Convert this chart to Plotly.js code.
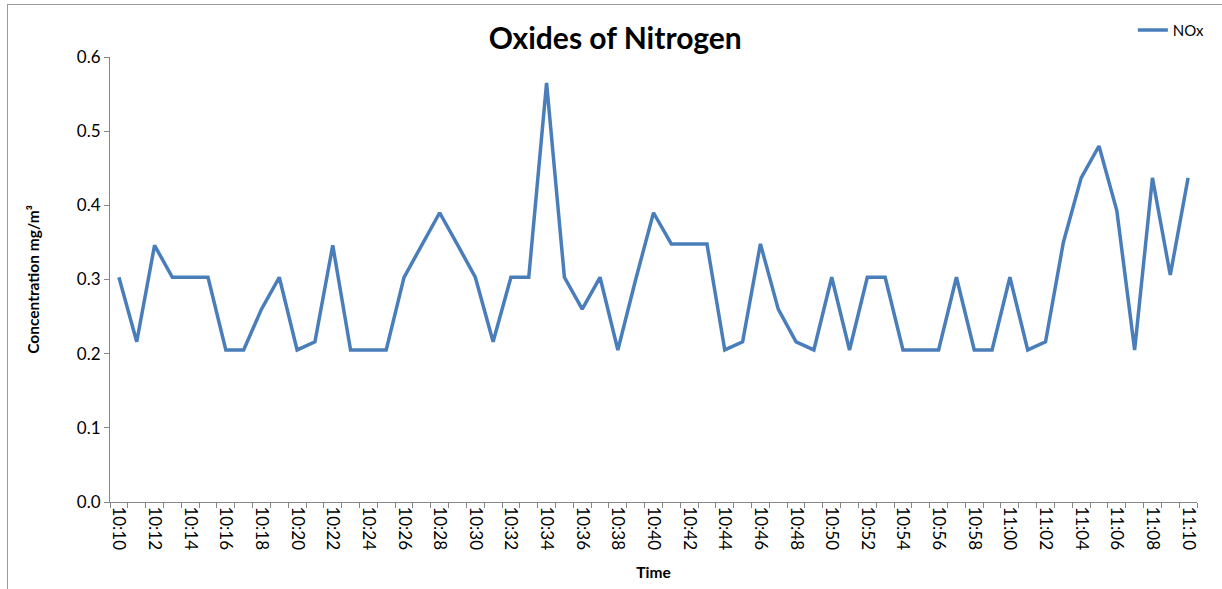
<!DOCTYPE html>
<html>
<head>
<meta charset="utf-8">
<script src="https://cdn.plot.ly/plotly-3.0.1.min.js"></script>
<style>
  html, body { margin: 0; padding: 0; background: #fff; overflow: hidden; }
  #frame { position: absolute; left: 7px; top: 4px; width: 1300px; height: 700px;
           border-top: 1px solid #9a9a9a; border-left: 1px solid #9a9a9a; }
  #chart { position: absolute; left: 0; top: 0; width: 1222px; height: 589px; }
</style>
</head>
<body>
<div id="frame"></div>
<div id="chart"></div>
<script>
const times = ["10:10","10:11","10:12","10:13","10:14","10:15","10:16","10:17","10:18","10:19",
  "10:20","10:21","10:22","10:23","10:24","10:25","10:26","10:27","10:28","10:29",
  "10:30","10:31","10:32","10:33","10:34","10:35","10:36","10:37","10:38","10:39",
  "10:40","10:41","10:42","10:43","10:44","10:45","10:46","10:47","10:48","10:49",
  "10:50","10:51","10:52","10:53","10:54","10:55","10:56","10:57","10:58","10:59",
  "11:00","11:01","11:02","11:03","11:04","11:05","11:06","11:07","11:08","11:09","11:10"];
const nox = [0.303,0.216,0.346,0.303,0.303,0.303,0.205,0.205,0.26,0.303,
  0.205,0.216,0.346,0.205,0.205,0.205,0.303,0.347,0.39,0.347,
  0.303,0.216,0.303,0.303,0.565,0.303,0.26,0.303,0.205,0.3,
  0.39,0.348,0.348,0.348,0.205,0.216,0.348,0.26,0.216,0.205,
  0.303,0.205,0.303,0.303,0.205,0.205,0.205,0.303,0.205,0.205,
  0.303,0.205,0.216,0.35,0.437,0.48,0.393,0.205,0.437,0.306,0.437];
const tickText = times.map((t, i) => (i % 2 === 0 ? t : ""));
const yTicks = [0, 0.1, 0.2, 0.3, 0.4, 0.5, 0.6];

const font = "Lato, 'Open Sans', sans-serif";
const trace = {
  x: times, y: nox, type: "scatter", mode: "lines", name: "NOx",
  line: { color: "#4a7ebb", width: 3.5 }
};
const layout = {
  width: 1222, height: 589,
  margin: { l: 110, r: 23, t: 57, b: 87 },
  paper_bgcolor: "rgba(0,0,0,0)", plot_bgcolor: "rgba(0,0,0,0)",
  font: { family: font, color: "#000", size: 17 },
  title: { text: "<b>Oxides of Nitrogen</b>", font: { family: font, size: 30, color: "#000" },
           x: 0.5035, xanchor: "center", y: 0.935, yanchor: "middle" },
  showlegend: true,
  legend: { x: 0.941, xanchor: "left", y: 1.06, yanchor: "middle",
            font: { family: font, size: 15 }, bgcolor: "rgba(0,0,0,0)" },
  xaxis: {
    type: "category", tickmode: "array", tickvals: times, ticktext: tickText,
    tickson: "boundaries", ticks: "outside", ticklen: 5, tickcolor: "#868686",
    tickangle: 90, tickfont: { family: font, size: 17 },
    showline: true, linecolor: "#868686", linewidth: 1, showgrid: false, zeroline: false,
    range: [-0.5, 60.5],
    title: { text: "<b>Time</b>", font: { family: font, size: 15.5 }, standoff: 17 }
  },
  yaxis: {
    range: [0, 0.6], tickmode: "array", tickvals: yTicks, tickformat: ".1f",
    ticks: "outside", ticklen: 5, tickcolor: "#868686", tickfont: { family: font, size: 17 },
    showline: true, linecolor: "#868686", linewidth: 1, showgrid: false, zeroline: false,
    title: { text: "<b>Concentration mg/m³</b>", font: { family: font, size: 15.5 }, standoff: 33 }
  }
};
Plotly.newPlot("chart", [trace], layout, { displayModeBar: false, staticPlot: true });
</script>
</body>
</html>
